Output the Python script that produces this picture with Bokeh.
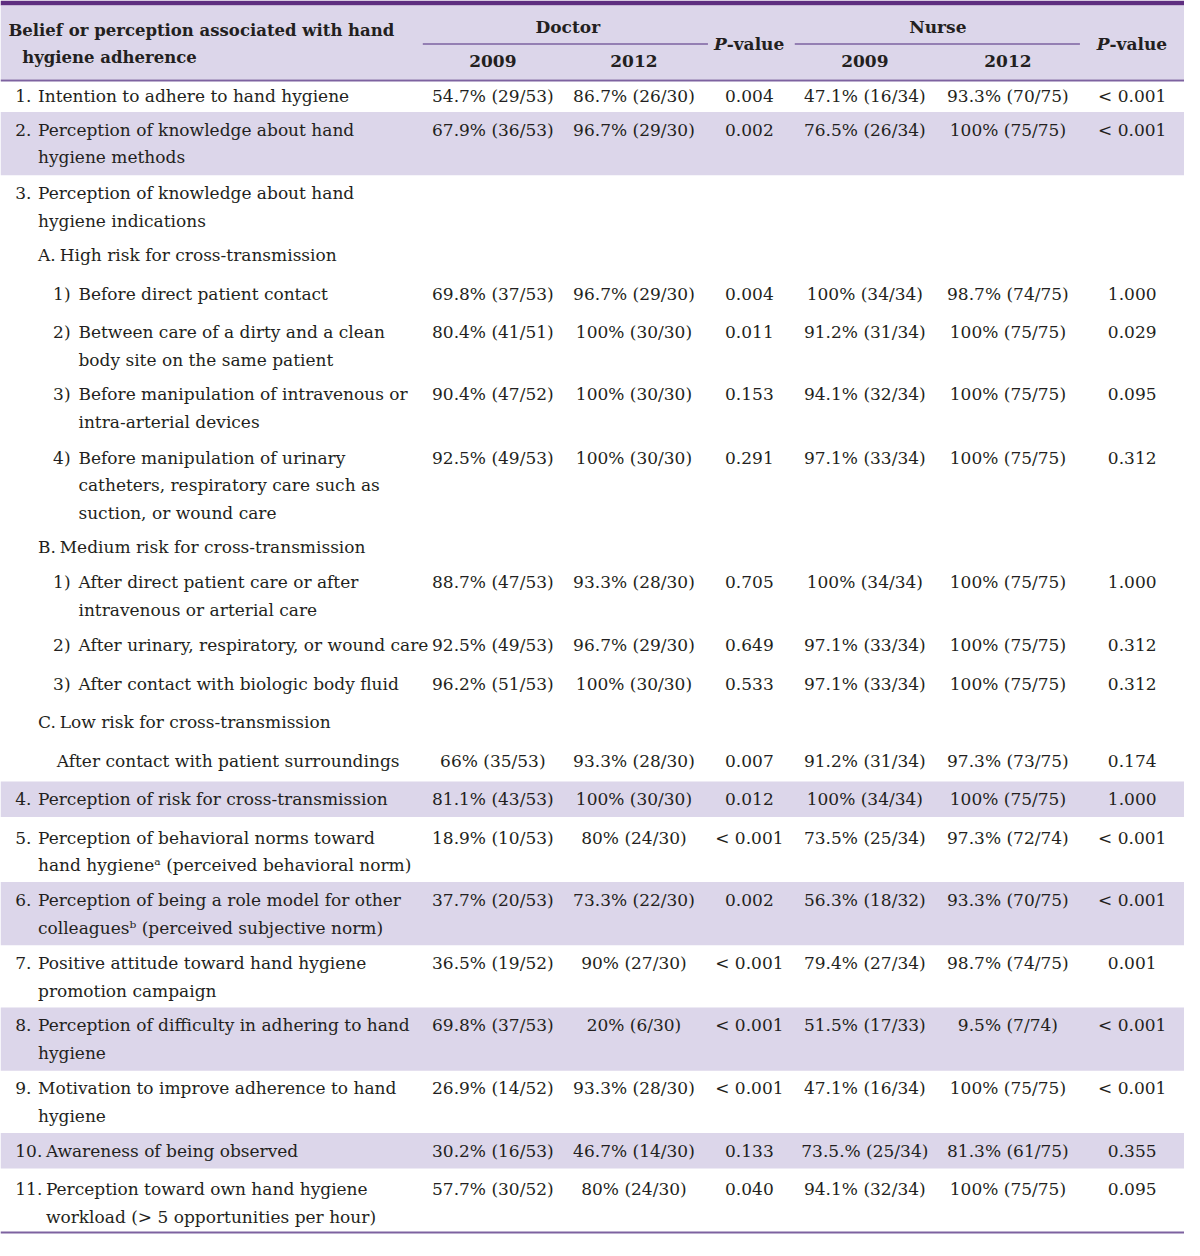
from bokeh.plotting import figure
from bokeh.models import ColumnDataSource, Range1d
from bokeh.embed import file_html
from bokeh.resources import INLINE
from bokeh.core.properties import value

# ---------------- data ----------------
row_numbers = ["1.", "2.", "3.", "A.", "1)", "2)", "3)", "4)", "B.", "1)", "2)", "3)",
               "C.", "", "4.", "5.", "6.", "7.", "8.", "9.", "10.", "11."]
row_labels = [
    ["Intention to adhere to hand hygiene"],
    ["Perception of knowledge about hand", "hygiene methods"],
    ["Perception of knowledge about hand", "hygiene indications"],
    ["High risk for cross-transmission"],
    ["Before direct patient contact"],
    ["Between care of a dirty and a clean", "body site on the same patient"],
    ["Before manipulation of intravenous or", "intra-arterial devices"],
    ["Before manipulation of urinary", "catheters, respiratory care such as", "suction, or wound care"],
    ["Medium risk for cross-transmission"],
    ["After direct patient care or after", "intravenous or arterial care"],
    ["After urinary, respiratory, or wound care"],
    ["After contact with biologic body fluid"],
    ["Low risk for cross-transmission"],
    ["After contact with patient surroundings"],
    ["Perception of risk for cross-transmission"],
    ["Perception of behavioral norms toward", "hand hygiene\u1d43 (perceived behavioral norm)"],
    ["Perception of being a role model for other", "colleagues\u1d47 (perceived subjective norm)"],
    ["Positive attitude toward hand hygiene", "promotion campaign"],
    ["Perception of difficulty in adhering to hand", "hygiene"],
    ["Motivation to improve adherence to hand", "hygiene"],
    ["Awareness of being observed"],
    ["Perception toward own hand hygiene", "workload (> 5 opportunities per hour)"],
]
doctor_2009 = ["54.7% (29/53)", "67.9% (36/53)", "", "", "69.8% (37/53)", "80.4% (41/51)",
               "90.4% (47/52)", "92.5% (49/53)", "", "88.7% (47/53)", "92.5% (49/53)",
               "96.2% (51/53)", "", "66% (35/53)", "81.1% (43/53)", "18.9% (10/53)",
               "37.7% (20/53)", "36.5% (19/52)", "69.8% (37/53)", "26.9% (14/52)",
               "30.2% (16/53)", "57.7% (30/52)"]
doctor_2012 = ["86.7% (26/30)", "96.7% (29/30)", "", "", "96.7% (29/30)", "100% (30/30)",
               "100% (30/30)", "100% (30/30)", "", "93.3% (28/30)", "96.7% (29/30)",
               "100% (30/30)", "", "93.3% (28/30)", "100% (30/30)", "80% (24/30)",
               "73.3% (22/30)", "90% (27/30)", "20% (6/30)", "93.3% (28/30)",
               "46.7% (14/30)", "80% (24/30)"]
doctor_p = ["0.004", "0.002", "", "", "0.004", "0.011", "0.153", "0.291", "", "0.705",
            "0.649", "0.533", "", "0.007", "0.012", "< 0.001", "0.002", "< 0.001",
            "< 0.001", "< 0.001", "0.133", "0.040"]
nurse_2009 = ["47.1% (16/34)", "76.5% (26/34)", "", "", "100% (34/34)", "91.2% (31/34)",
              "94.1% (32/34)", "97.1% (33/34)", "", "100% (34/34)", "97.1% (33/34)",
              "97.1% (33/34)", "", "91.2% (31/34)", "100% (34/34)", "73.5% (25/34)",
              "56.3% (18/32)", "79.4% (27/34)", "51.5% (17/33)", "47.1% (16/34)",
              "73.5.% (25/34)", "94.1% (32/34)"]
nurse_2012 = ["93.3% (70/75)", "100% (75/75)", "", "", "98.7% (74/75)", "100% (75/75)",
              "100% (75/75)", "100% (75/75)", "", "100% (75/75)", "100% (75/75)",
              "100% (75/75)", "", "97.3% (73/75)", "100% (75/75)", "97.3% (72/74)",
              "93.3% (70/75)", "98.7% (74/75)", "9.5% (7/74)", "100% (75/75)",
              "81.3% (61/75)", "100% (75/75)"]
nurse_p = ["< 0.001", "< 0.001", "", "", "1.000", "0.029", "0.095", "0.312", "", "1.000",
           "0.312", "0.312", "", "0.174", "1.000", "< 0.001", "< 0.001", "0.001",
           "< 0.001", "< 0.001", "0.355", "0.095"]
row_kind = ["main", "main", "main", "sub", "item", "item", "item", "item", "sub", "item",
            "item", "item", "sub", "plain", "main", "main", "main", "main", "main", "main",
            "wide", "wide"]
shaded_rows = [1, 14, 16, 18, 20]

header_main = ["Belief or perception associated with hand", "hygiene adherence"]
groups = ["Doctor", "Nurse"]
years = ["2009", "2012"]

# ---------------- layout ----------------
W, H = 1200, 1256
FONT = value("DejaVu Serif")
FS = "17px"
FSV = "17px"
FSH = "17px"
FSH1 = "16.5px"
TXT = "#231f20"
PURPLE = "#5e2e80"
LINEC = "#7d62a0"
SHADE = "#dcd6ea"
row_y = [97, 131, 195, 258, 297, 336, 399, 463, 554, 589, 653, 692, 731, 770, 809,
         848, 911, 975, 1038, 1102, 1165, 1204]
LS = 28
col_x = [499, 642, 759, 876, 1021, 1147]
num_pos = {"main": (15, "left", 38), "wide": (15, "left", 46), "sub": (38, "left", 60),
           "item": (71, "right", 79), "plain": (0, "left", 57)}

p = figure(width=1184, height=1240, x_range=Range1d(0, W), y_range=Range1d(H, 0),
           output_backend="svg", toolbar_location=None, min_border=0)
p.axis.visible = False
p.grid.visible = False
p.outline_line_color = None
p.background_fill_color = "white"

# backgrounds
p.quad(left=[0], right=[W], top=[0], bottom=[5], fill_color=PURPLE, line_color=None)
p.quad(left=[0], right=[W], top=[5], bottom=[80], fill_color=SHADE, line_color=None)
sh_top = [row_y[i] - 18 for i in shaded_rows]
sh_bot = [row_y[i] + LS * (len(row_labels[i]) - 1) + 18 for i in shaded_rows]
p.quad(left=[0] * len(shaded_rows), right=[W] * len(shaded_rows), top=sh_top,
       bottom=sh_bot, fill_color=SHADE, line_color=None)

# rules
p.segment(x0=[0, 0], y0=[81, 1248], x1=[W, W], y1=[81, 1248], line_color=LINEC, line_width=2)
p.segment(x0=[428, 805], y0=[44, 44], x1=[717, 1094], y1=[44, 44], line_color=LINEC,
          line_width=1.6)

# header texts
p.text(x=[8, 22], y=[30, 58], text=header_main, text_font=FONT, text_font_size=FSH1,
       text_font_style="bold", text_color=TXT, text_baseline="middle", text_align="left")
p.text(x=[575, 950], y=[27, 27], text=groups, text_font=FONT, text_font_size=FSH,
       text_font_style="bold", text_color=TXT, text_baseline="middle", text_align="center")
p.text(x=[col_x[0], col_x[1], col_x[3], col_x[4]], y=[61] * 4, text=years * 2,
       text_font=FONT, text_font_size=FSH, text_font_style="bold", text_color=TXT,
       text_baseline="middle", text_align="center")
p.text(x=[736, 1124], y=[44, 44], text=["P", "P"], text_font=FONT, text_font_size=FSH,
       text_font_style="bold italic", text_color=TXT, text_baseline="middle",
       text_align="right")
p.text(x=[736, 1124], y=[44, 44], text=["-value", "-value"], text_font=FONT,
       text_font_size=FSH, text_font_style="bold", text_color=TXT, text_baseline="middle",
       text_align="left")

# row labels
nl_x, nl_y, nl_t, nr_x, nr_y, nr_t = [], [], [], [], [], []
lx, ly, lt = [], [], []
for i, (num, lines, kind) in enumerate(zip(row_numbers, row_labels, row_kind)):
    nx, al, tx = num_pos[kind]
    if num:
        if al == "left":
            nl_x.append(nx); nl_y.append(row_y[i]); nl_t.append(num)
        else:
            nr_x.append(nx); nr_y.append(row_y[i]); nr_t.append(num)
    for k, line in enumerate(lines):
        lx.append(tx); ly.append(row_y[i] + LS * k); lt.append(line)

p.text(x=nl_x, y=nl_y, text=nl_t, text_font=FONT, text_font_size=FS, text_color=TXT,
       text_baseline="middle", text_align="left")
p.text(x=nr_x, y=nr_y, text=nr_t, text_font=FONT, text_font_size=FS, text_color=TXT,
       text_baseline="middle", text_align="right")
p.text(x=lx, y=ly, text=lt, text_font=FONT, text_font_size=FS, text_color=TXT,
       text_baseline="middle", text_align="left")

# values
for cx, col in zip(col_x, [doctor_2009, doctor_2012, doctor_p, nurse_2009, nurse_2012, nurse_p]):
    idx = [i for i, v in enumerate(col) if v]
    src = ColumnDataSource(dict(x=[cx] * len(idx), y=[row_y[i] for i in idx],
                                t=[col[i] for i in idx]))
    p.text(x="x", y="y", text="t", source=src, text_font=FONT, text_font_size=FSV,
           text_color=TXT, text_baseline="middle", text_align="center")

open("out.html", "w").write(file_html(p, INLINE))
